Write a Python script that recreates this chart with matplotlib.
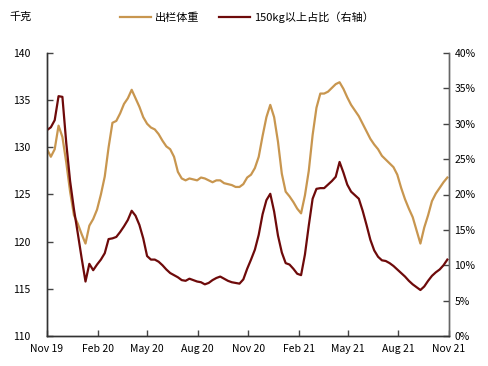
import matplotlib
matplotlib.use("Agg")
import matplotlib.pyplot as plt
import matplotlib.dates as mdates
from matplotlib.ticker import PercentFormatter
import numpy as np
import pandas as pd

plt.rcParams['font.family'] = ['Noto Sans CJK SC', 'DejaVu Sans']

dates = pd.date_range("2019-11-01", periods=105, freq="7D")

weight = [129.8, 129.0, 129.8, 132.3, 131.1, 128.4, 125.3, 122.8, 121.9, 120.8,
          119.8, 121.7, 122.4, 123.4, 125.0, 126.9, 130.0, 132.6, 132.8, 133.6,
          134.6, 135.2, 136.1, 135.2, 134.3, 133.2, 132.5, 132.1, 131.9, 131.4,
          130.7, 130.1, 129.8, 129.0, 127.4, 126.7, 126.5, 126.7, 126.6, 126.5,
          126.8, 126.7, 126.5, 126.3, 126.5, 126.5, 126.2, 126.1, 126.0, 125.8,
          125.8, 126.1, 126.8, 127.1, 127.8, 129.0, 131.2, 133.2, 134.5, 133.2,
          130.6, 127.2, 125.3, 124.8, 124.2, 123.5, 123.0, 124.9, 127.5, 131.3,
          134.2, 135.7, 135.7, 135.9, 136.3, 136.7, 136.9, 136.2, 135.3, 134.5,
          133.9, 133.3, 132.5, 131.7, 130.9, 130.3, 129.8, 129.1, 128.7, 128.3,
          127.9, 127.1, 125.7, 124.5, 123.5, 122.6, 121.2, 119.8, 121.5, 122.8,
          124.3, 125.1, 125.7, 126.3, 126.8]

share = [29.1, 29.5, 30.5, 33.9, 33.8, 27.3, 21.9, 17.9, 14.5, 11.0,
         7.7, 10.2, 9.3, 10.1, 10.8, 11.7, 13.7, 13.8, 14.0, 14.7,
         15.5, 16.4, 17.7, 17.0, 15.7, 13.8, 11.3, 10.8, 10.8, 10.5,
         10.0, 9.4, 8.9, 8.6, 8.3, 7.9, 7.8, 8.1, 7.9, 7.7,
         7.6, 7.3, 7.5, 7.9, 8.2, 8.4, 8.1, 7.8, 7.6, 7.5,
         7.4, 8.0, 9.5, 10.8, 12.2, 14.3, 17.2, 19.2, 20.1, 17.6,
         14.2, 11.8, 10.3, 10.1, 9.5, 8.8, 8.6, 11.5, 15.6, 19.4,
         20.8, 20.9, 20.9, 21.4, 21.9, 22.5, 24.6, 23.1, 21.4, 20.4,
         19.9, 19.4, 17.7, 15.7, 13.6, 12.1, 11.2, 10.7, 10.6, 10.3,
         9.9, 9.4, 8.9, 8.4, 7.8, 7.3, 6.9, 6.5, 7.0, 7.8,
         8.5, 9.0, 9.4, 10.0, 10.8]

left_ticks = [110, 115, 120, 125, 130, 135, 140]
right_ticks = [0, 5, 10, 15, 20, 25, 30, 35, 40]

gold = "#C8964F"
dark = "#6E0A0A"

fig = plt.figure(figsize=(4.89, 3.66), dpi=100)
ax = fig.add_axes([47/489, 1-336/366, (449-47)/489, (336-53)/366])
ax2 = ax.twinx()

l1, = ax.plot(dates, weight, color=gold, lw=1.6, label="出栏体重")
l2, = ax2.plot(dates, share, color=dark, lw=1.6, label="150kg以上占比（右轴）")

ax.set_ylim(110, 140)
ax.set_yticks(left_ticks)
ax2.set_ylim(0, 40)
ax2.set_yticks(right_ticks)
ax2.yaxis.set_major_formatter(PercentFormatter(decimals=0))

ax.set_xlim(pd.Timestamp("2019-11-01"), pd.Timestamp("2021-11-01"))
ax.xaxis.set_major_locator(mdates.MonthLocator(bymonth=[2, 5, 8, 11]))
ax.xaxis.set_major_formatter(mdates.DateFormatter("%b %y"))

for a in (ax, ax2):
    a.spines['top'].set_visible(False)
    a.spines['left'].set_color("#333333")
    a.spines['bottom'].set_color("#333333")
    a.spines['right'].set_color("#666666")
    for s in ('left', 'right', 'bottom'):
        a.spines[s].set_linewidth(1.0)
    a.tick_params(direction='in', length=4, width=1, color="#444444",
                  labelsize=7.5, labelcolor="black")
ax.tick_params(axis='x', pad=6)
ax.tick_params(axis='y', pad=12)
ax2.tick_params(axis='y', pad=4)

fig.text(0.02, 0.953, "千克", fontsize=8, va='center', ha='left')
fig.legend(handles=[l1, l2], loc='center', bbox_to_anchor=(0.505, 0.953),
           ncol=2, frameon=False, fontsize=8, handlelength=2.8,
           handletextpad=0.3, columnspacing=1.8)

fig.savefig("out.png", dpi=100)
